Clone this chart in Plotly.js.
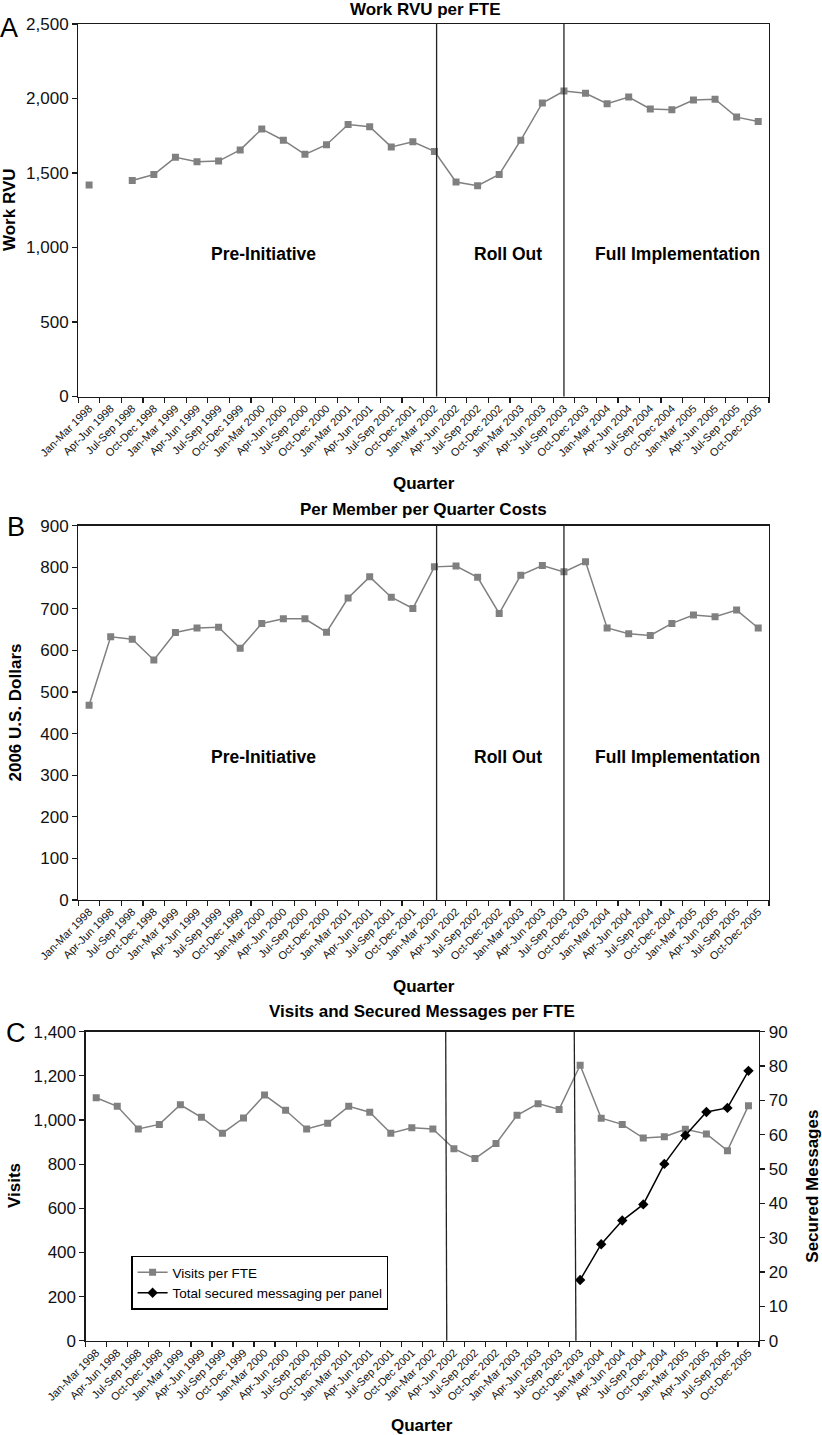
<!DOCTYPE html>
<html>
<head>
<meta charset="utf-8">
<script src="https://cdn.plot.ly/plotly-3.0.1.min.js"></script>
<style>html,body{margin:0;padding:0;background:#fff;}#chart{width:822px;height:1435px;}</style>
</head>
<body>
<div id="chart"></div>
<script>
// ---------- DATA ----------
const quarters = [
  'Jan-Mar 1998','Apr-Jun 1998','Jul-Sep 1998','Oct-Dec 1998',
  'Jan-Mar 1999','Apr-Jun 1999','Jul-Sep 1999','Oct-Dec 1999',
  'Jan-Mar 2000','Apr-Jun 2000','Jul-Sep 2000','Oct-Dec 2000',
  'Jan-Mar 2001','Apr-Jun 2001','Jul-Sep 2001','Oct-Dec 2001',
  'Jan-Mar 2002','Apr-Jun 2002','Jul-Sep 2002','Oct-Dec 2002',
  'Jan-Mar 2003','Apr-Jun 2003','Jul-Sep 2003','Oct-Dec 2003',
  'Jan-Mar 2004','Apr-Jun 2004','Jul-Sep 2004','Oct-Dec 2004',
  'Jan-Mar 2005','Apr-Jun 2005','Jul-Sep 2005','Oct-Dec 2005'
];
const workRvu = [1420,null,1450,1490,1605,1575,1580,1655,1795,1720,1625,1690,1825,1810,1675,1710,
                 1645,1440,1415,1490,1720,1970,2050,2035,1965,2010,1930,1925,1990,1995,1875,1845];
const pmpqCosts = [468,633,627,577,643,654,656,605,665,676,676,644,726,777,728,701,
                   801,803,776,689,781,804,789,813,654,640,636,665,685,681,697,654];
const visitsPerFte = [1101,1062,959,980,1069,1012,940,1009,1113,1044,959,985,1062,1035,940,965,
                      959,870,825,893,1021,1074,1048,1248,1008,980,918,924,958,937,861,1065];
const securedMessages = [null,null,null,null,null,null,null,null,null,null,null,null,null,null,null,null,
                         null,null,null,null,null,null,null,17.7,28.1,35.0,39.7,51.5,59.8,66.6,67.8,78.6];
const phaseLabels = ['Pre-Initiative','Roll Out','Full Implementation'];
const panelTitles = ['Work RVU per FTE','Per Member per Quarter Costs','Visits and Secured Messages per FTE'];

// ---------- LAYOUT HELPERS ----------
const W = 822, H = 1435;
const px = v => v / W;
const py = v => 1 - v / H;
const FONT = 'Liberation Sans, Arial, Helvetica, sans-serif';
const GRAY = '#808080';
const AX = '#1a1a1a';

const xCommon = {
  type: 'category', range: [-0.5, 31.5], tickson: 'boundaries',
  ticks: 'outside', ticklen: 5, tickwidth: 1.2, tickcolor: AX,
  showline: true, linecolor: AX, linewidth: 1.3, showgrid: false, zeroline: false,
  tickangle: -45, tickfont: {family: FONT, size: 11, color: '#111'},
  automargin: false, fixedrange: true
};
const yCommon = {
  ticks: 'outside', ticklen: 5, tickwidth: 1.2, tickcolor: AX,
  showline: true, linecolor: AX, linewidth: 1.3, showgrid: false, zeroline: false,
  tickfont: {family: FONT, size: 17, color: '#111'}, tickformat: ',d',
  automargin: false, fixedrange: true
};

const traceStyle = {
  mode: 'lines+markers',
  line: {color: GRAY, width: 1.5},
  marker: {symbol: 'square', size: 7, color: GRAY},
  showlegend: false, hoverinfo: 'skip'
};

const data = [
  Object.assign({}, traceStyle, {x: quarters, y: workRvu, xaxis: 'x', yaxis: 'y'}),
  Object.assign({}, traceStyle, {x: quarters, y: pmpqCosts, xaxis: 'x2', yaxis: 'y2'}),
  Object.assign({}, traceStyle, {x: quarters, y: visitsPerFte, xaxis: 'x3', yaxis: 'y3',
    name: 'Visits per FTE', showlegend: true}),
  {x: quarters, y: securedMessages, xaxis: 'x3', yaxis: 'y4', mode: 'lines+markers',
   name: 'Total secured messaging per panel', showlegend: true, hoverinfo: 'skip',
   line: {color: '#000', width: 1.5}, marker: {symbol: 'diamond', size: 8, color: '#000'}}
];

function vline(xa, ya, xb, xt, col) {
  return {type: 'line', xref: xa, yref: ya + ' domain', x0: xb, x1: xt, y0: 0, y1: 1,
          line: {color: col || '#222', width: 1.3}};
}

function ann(text, x, y, size, opts) {
  return Object.assign({text: text, xref: 'paper', yref: 'paper', x: px(x), y: py(y),
    xanchor: 'center', yanchor: 'middle', showarrow: false,
    font: {family: FONT, size: size, color: '#000'}}, opts || {});
}
const b = t => '<b>' + t + '</b>';

const layout = {
  width: W, height: H,
  margin: {l: 0, r: 0, t: 0, b: 0},
  paper_bgcolor: '#fff', plot_bgcolor: '#fff',
  font: {family: FONT, color: '#000'},
  xaxis: Object.assign({}, xCommon, {domain: [px(78.3), px(769)], anchor: 'y', mirror: true}),
  yaxis: Object.assign({}, yCommon, {domain: [py(396.5), py(24)], anchor: 'x', range: [0, 2500], dtick: 500, mirror: true}),
  xaxis2: Object.assign({}, xCommon, {domain: [px(78.3), px(769)], anchor: 'y2', mirror: true}),
  yaxis2: Object.assign({}, yCommon, {domain: [py(899.9), py(525.7)], anchor: 'x2', range: [0, 900], dtick: 100, mirror: true}),
  xaxis3: Object.assign({}, xCommon, {domain: [px(85.7), px(759)], anchor: 'y3', mirror: true}),
  yaxis3: Object.assign({}, yCommon, {domain: [py(1340.7), py(1031.7)], anchor: 'x3', range: [0, 1400], dtick: 200}),
  yaxis4: Object.assign({}, yCommon, {overlaying: 'y3', side: 'right', anchor: 'x3', range: [0, 90], dtick: 10}),
  legend: {
    x: px(131.3), y: py(1255.7), xanchor: 'left', yanchor: 'top',
    bordercolor: '#000', borderwidth: 1.3, bgcolor: '#fff',
    font: {family: FONT, size: 13.5, color: '#000'}, itemwidth: 30,
    tracegroupgap: 0
  },
  shapes: [
    vline('x', 'y', 16.1, 16.1), vline('x', 'y', 22, 22),
    vline('x2', 'y2', 16.1, 16.1), vline('x2', 'y2', 22, 22),
    vline('x3', 'y3', 16.66, 16.61), vline('x3', 'y3', 22.8, 22.72)
  ],
  annotations: [
    ann('A', 9, 28, 27), ann('B', 15.5, 527, 27), ann('C', 16, 1033, 27),
    ann(b(panelTitles[0]), 425.8, 9, 17),
    ann(b(panelTitles[1]), 423.3, 509.5, 17),
    ann(b(panelTitles[2]), 421.8, 1011.7, 17),
    ann(b('Work RVU'), 9, 210, 17, {textangle: -90}),
    ann(b('2006 U.S. Dollars'), 15.7, 712.8, 17, {textangle: -90}),
    ann(b('Visits'), 14, 1186, 17, {textangle: -90}),
    ann(b('Secured Messages'), 811.7, 1186, 17, {textangle: -90}),
    ann(b('Quarter'), 424, 483.3, 17),
    ann(b('Quarter'), 424, 986, 17),
    ann(b('Quarter'), 422, 1425, 17),
    ann(b(phaseLabels[0]), 263.7, 254, 17.5), ann(b(phaseLabels[1]), 507.8, 254, 17.5), ann(b(phaseLabels[2]), 677.5, 254, 17.5),
    ann(b(phaseLabels[0]), 263.7, 756.7, 17.5), ann(b(phaseLabels[1]), 507.8, 756.7, 17.5), ann(b(phaseLabels[2]), 677.5, 756.7, 17.5)
  ]
};

Plotly.newPlot('chart', data, layout, {staticPlot: true, displayModeBar: false});
</script>
</body>
</html>
